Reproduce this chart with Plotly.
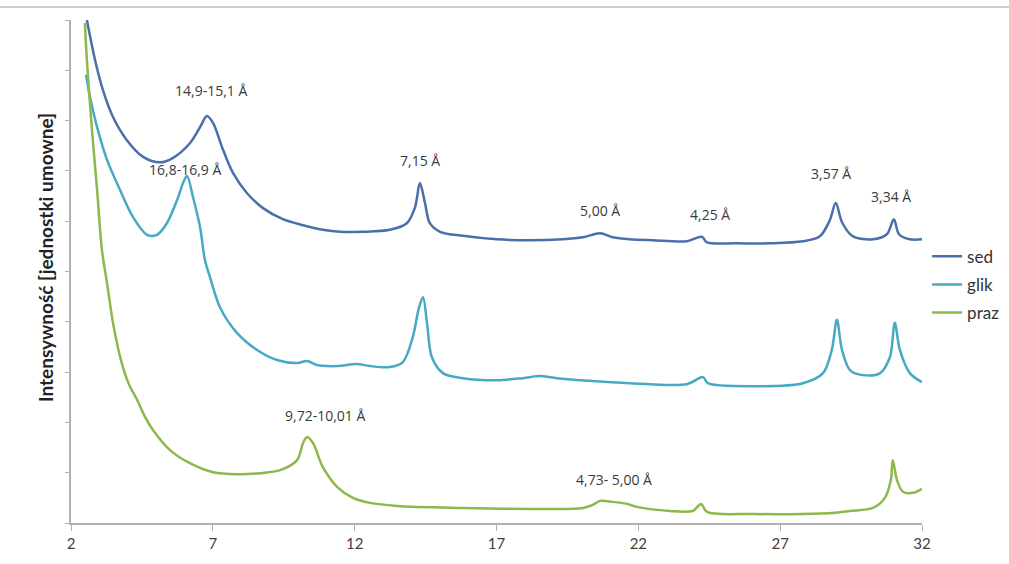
import plotly.graph_objects as go

# 2-theta positions (deg) and intensities (arbitrary units) for each sample
sed_x = [2.56, 2.85, 3.13, 3.48, 3.97, 4.54, 5.14, 5.60, 6.19, 6.55, 6.79, 7.01, 7.36, 7.71,
         8.20, 8.77, 9.47, 10.18, 10.88, 11.48, 12.29, 13.24, 13.84, 14.13, 14.30, 14.48,
         14.65, 15.01, 15.82, 17.02, 18.18, 19.34, 20.05, 20.65, 21.10, 21.70, 22.51, 23.71,
         24.24, 24.42, 25.48, 26.64, 27.80, 28.40, 28.75, 28.96, 29.18, 29.56, 30.27, 30.76,
         31.01, 31.19, 31.57, 32.00]
sed_y = [10.0, 9.20, 8.60, 8.07, 7.61, 7.28, 7.17, 7.26, 7.55, 7.87, 8.09, 7.95, 7.42, 6.96,
         6.56, 6.26, 6.04, 5.92, 5.83, 5.79, 5.79, 5.83, 5.96, 6.28, 6.76, 6.36,
         5.96, 5.79, 5.71, 5.64, 5.62, 5.64, 5.68, 5.76, 5.68, 5.64, 5.62, 5.60,
         5.69, 5.58, 5.56, 5.56, 5.60, 5.70, 6.02, 6.36, 5.98, 5.70, 5.64, 5.74,
         6.04, 5.74, 5.64, 5.64]

glik_x = [2.53, 2.67, 2.92, 3.27, 3.73, 4.19, 4.68, 5.03, 5.38, 5.74, 5.95, 6.09, 6.30, 6.55,
          6.72, 6.90, 7.25, 7.85, 8.56, 9.26, 9.97, 10.32, 10.67, 11.38, 12.08, 12.54, 13.24,
          13.70, 14.05, 14.27, 14.41, 14.55, 14.72, 15.11, 15.82, 17.02, 17.93, 18.53, 19.13,
          19.94, 21.10, 21.70, 23.71, 24.28, 24.45, 26.04, 27.80, 28.51, 28.82, 29.00, 29.18,
          29.46, 29.92, 30.52, 30.87, 31.04, 31.22, 31.57, 32.00]
glik_y = [8.91, 8.47, 7.87, 7.22, 6.62, 6.08, 5.73, 5.73, 5.96, 6.42, 6.76, 6.90, 6.48, 5.88,
          5.23, 4.89, 4.29, 3.78, 3.44, 3.24, 3.18, 3.22, 3.14, 3.12, 3.16, 3.12, 3.10,
          3.20, 3.70, 4.29, 4.49, 3.98, 3.30, 2.98, 2.88, 2.84, 2.88, 2.92, 2.88,
          2.84, 2.80, 2.78, 2.76, 2.90, 2.78, 2.72, 2.78, 2.98, 3.44, 4.04, 3.44,
          3.04, 2.94, 2.98, 3.30, 3.98, 3.44, 2.98, 2.80]

praz_x = [2.49, 2.56, 2.74, 2.92, 3.09, 3.27, 3.48, 3.65, 3.83, 4.05, 4.33, 4.60, 4.89, 5.49,
          6.19, 7.01, 7.85, 8.66, 9.37, 9.97, 10.18, 10.32, 10.53, 10.88, 11.38, 11.94, 12.54,
          13.49, 15.82, 18.18, 20.05, 20.40, 20.65, 21.10, 21.60, 21.95, 23.11, 23.92, 24.21,
          24.42, 26.04, 27.80, 28.86, 29.46, 30.27, 30.69, 30.90, 30.97, 31.12, 31.33, 31.68,
          32.00]
praz_y = [9.94, 9.20, 7.81, 6.62, 5.43, 4.77, 3.98, 3.50, 3.10, 2.75, 2.45, 2.12, 1.85, 1.45,
          1.19, 1.01, 0.97, 0.99, 1.05, 1.25, 1.59, 1.71, 1.59, 1.11, 0.72, 0.50, 0.40,
          0.34, 0.30, 0.28, 0.30, 0.36, 0.44, 0.42, 0.38, 0.32, 0.24, 0.24, 0.38,
          0.22, 0.18, 0.18, 0.20, 0.24, 0.30, 0.50, 0.85, 1.25, 0.85, 0.62, 0.60,
          0.68]

series_names = ["sed", "glik", "praz"]
series_colors = ["#4a6fab", "#47a9c4", "#8db84c"]

# d-spacing labels for the main reflections
peak_labels = ["14,9-15,1 Å", "16,8-16,9 Å", "7,15 Å", "5,00 Å", "4,25 Å",
               "3,57 Å", "3,34 Å", "9,72-10,01 Å", "4,73- 5,00 Å"]
peak_label_x = [6.93, 6.02, 14.30, 20.65, 24.52, 28.79, 30.90, 10.95, 21.14]
peak_label_y = [8.59, 7.02, 7.20, 6.22, 6.14, 6.94, 6.50, 2.13, 0.87]

x_ticks = [2, 7, 12, 17, 22, 27, 32]
y_ticks = list(range(0, 11))

fig = go.Figure()
for name, xs, ys, col in zip(series_names, [sed_x, glik_x, praz_x],
                             [sed_y, glik_y, praz_y], series_colors):
    fig.add_trace(go.Scatter(
        x=xs, y=ys, name=name, mode="lines", legendgroup=name,
        line=dict(color=col, width=2.5, shape="spline", smoothing=0.9),
    ))

for txt, lx, ly in zip(peak_labels, peak_label_x, peak_label_y):
    fig.add_annotation(x=lx, y=ly, xref="x", yref="y", text=txt, showarrow=False,
                       font=dict(family="Open Sans", size=14, color="#3a3a3a"))

# vertical axis title
fig.add_annotation(x=-26 / 851, y=(523 - 258) / 503, xref="paper", yref="paper",
                   text="<b>Intensywność [jednostki umowne]</b>", textangle=-90,
                   showarrow=False, xanchor="center", yanchor="middle",
                   font=dict(family="Lato", size=19, color="#222222"))

# frame line along the top of the chart area
fig.add_shape(type="line", xref="paper", yref="paper",
              x0=-71 / 851, x1=(1009 - 71) / 851, y0=(523 - 7) / 503, y1=(523 - 7) / 503,
              line=dict(color="#cfcfcf", width=2))

fig.update_layout(
    width=1009, height=564,
    margin=dict(l=71, r=87, t=20, b=41, autoexpand=False),
    paper_bgcolor="white", plot_bgcolor="white",
    showlegend=True,
    legend=dict(x=1.006, y=0.565, xanchor="left", yanchor="top",
                font=dict(family="Lato", size=17, color="#333333"),
                itemwidth=30, tracegroupgap=3, bgcolor="rgba(0,0,0,0)"),
    xaxis=dict(range=[2, 32], tickvals=x_ticks, ticktext=[str(v) for v in x_ticks],
               showgrid=False, zeroline=False, showline=True, linecolor="#b0b0b0",
               linewidth=1.5, ticks="outside", ticklen=6, tickcolor="#b0b0b0",
               tickfont=dict(family="Lato", size=15, color="#404040")),
    yaxis=dict(range=[0, 10], tickvals=y_ticks, showticklabels=False,
               showgrid=False, zeroline=False, showline=True, linecolor="#b0b0b0",
               linewidth=1.5, ticks="outside", ticklen=4, tickcolor="#b0b0b0"),
)

fig.write_html("out.html")
